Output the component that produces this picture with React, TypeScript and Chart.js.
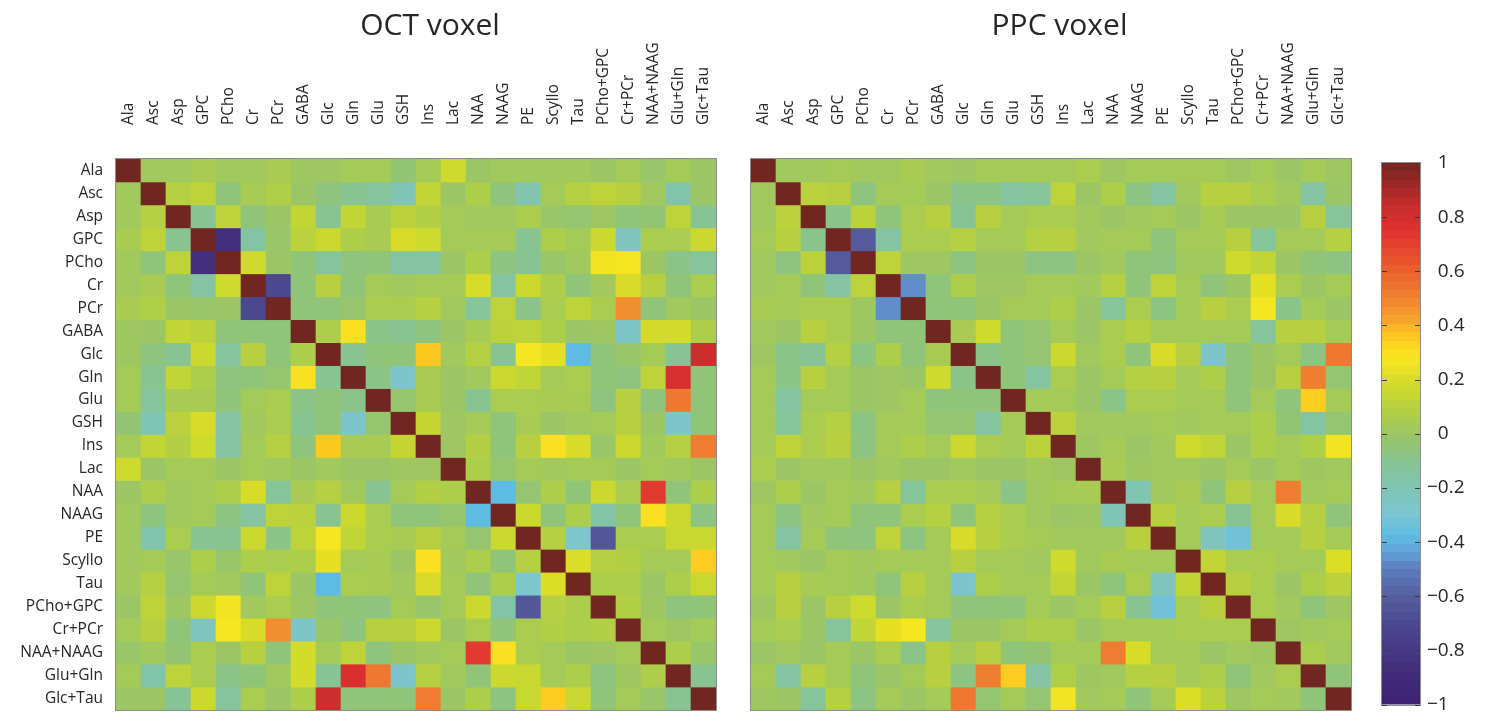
import React, { useEffect, useRef } from 'react';
import { Chart, registerables } from 'chart.js';

Chart.register(...registerables);

// ---- Data ----
const metabolites = [
  'Ala', 'Asc', 'Asp', 'GPC', 'PCho', 'Cr', 'PCr', 'GABA', 'Glc', 'Gln', 'Glu', 'GSH',
  'Ins', 'Lac', 'NAA', 'NAAG', 'PE', 'Scyllo', 'Tau', 'PCho+GPC', 'Cr+PCr', 'NAA+NAAG', 'Glu+Gln', 'Glc+Tau',
];

// Lower triangle (row r holds columns 0..r-1); diagonal = 1, upper = mirror.
const octLower: number[][] = [
  [],
  [0.02],
  [0.02, 0.09],
  [0.04, 0.12, -0.1],
  [0.02, -0.05, 0.12, -0.86],
  [0.02, 0.04, -0.05, -0.15, 0.17],
  [0.04, 0.07, 0.0, -0.01, 0.0, -0.7],
  [0.01, 0.0, 0.13, 0.11, -0.05, -0.05, -0.05],
  [0.01, -0.06, -0.1, 0.16, -0.13, 0.1, -0.05, 0.06],
  [0.03, -0.1, 0.13, 0.06, -0.06, -0.05, -0.02, 0.3, -0.1],
  [0.03, -0.13, 0.04, 0.04, -0.05, 0.03, 0.05, -0.08, -0.05, -0.08],
  [-0.04, -0.2, 0.11, 0.2, -0.15, 0.02, 0.05, -0.1, -0.05, -0.27, -0.02],
  [0.03, 0.13, 0.08, 0.17, -0.15, 0.03, 0.09, -0.06, 0.36, 0.04, 0.04, 0.14],
  [0.17, 0.0, 0.03, 0.03, 0.0, 0.03, 0.02, 0.0, 0.02, 0.0, 0.0, 0.01, 0.01],
  [0.0, 0.06, 0.02, 0.03, 0.06, 0.2, -0.12, 0.04, 0.09, 0.02, -0.1, 0.03, 0.08, 0.06],
  [0.02, -0.06, 0.02, 0.03, -0.07, -0.14, 0.12, 0.11, -0.1, 0.16, 0.05, -0.05, -0.05, -0.02, -0.38],
  [0.02, -0.18, 0.05, -0.1, -0.1, 0.16, -0.08, 0.12, 0.27, 0.13, 0.05, 0.04, 0.1, 0.03, -0.03, 0.16],
  [0.02, 0.03, -0.01, 0.06, -0.01, 0.06, 0.05, 0.06, 0.23, 0.03, 0.04, 0.0, 0.3, 0.02, 0.06, -0.05, 0.09],
  [0.02, 0.09, -0.03, 0.03, 0.02, -0.05, 0.12, 0.0, -0.38, 0.05, 0.04, 0.02, 0.2, 0.03, -0.05, 0.06, -0.28, 0.21],
  [0.0, 0.12, 0.01, 0.16, 0.26, 0.02, 0.05, 0.01, -0.05, -0.05, -0.06, 0.03, -0.01, 0.03, 0.16, -0.16, -0.63, 0.09, 0.06],
  [0.03, 0.1, -0.05, -0.23, 0.27, 0.2, 0.47, -0.26, -0.01, -0.06, 0.1, 0.1, 0.16, 0.0, 0.05, -0.05, 0.05, 0.08, 0.06, 0.08],
  [-0.01, 0.02, -0.04, 0.05, 0.0, 0.1, -0.05, 0.19, 0.03, 0.12, -0.06, 0.0, 0.02, 0.03, 0.72, 0.3, 0.05, 0.03, 0.0, 0.01, 0.03],
  [0.03, -0.17, 0.12, 0.05, -0.08, -0.05, 0.02, 0.19, -0.11, 0.77, 0.53, -0.27, 0.09, 0.02, -0.05, 0.16, 0.15, 0.03, 0.06, -0.06, 0.01, 0.06],
  [0.0, 0.0, -0.11, 0.16, -0.13, 0.05, 0.0, 0.06, 0.82, -0.05, -0.05, -0.05, 0.52, 0.0, 0.06, -0.07, 0.15, 0.35, 0.15, -0.05, 0.03, -0.01, -0.1],
];

const ppcLower: number[][] = [
  [],
  [0.02],
  [0.02, 0.11],
  [0.03, 0.1, -0.09],
  [0.02, -0.06, 0.11, -0.62],
  [0.02, 0.03, -0.05, -0.15, 0.12],
  [0.04, 0.03, 0.05, 0.05, 0.01, -0.47],
  [0.02, 0.0, 0.1, 0.05, 0.01, -0.05, -0.05],
  [0.01, -0.08, -0.11, 0.09, -0.07, 0.06, -0.05, 0.04],
  [0.03, -0.08, 0.1, 0.03, 0.0, 0.01, 0.0, 0.17, -0.08],
  [0.03, -0.14, 0.03, 0.03, 0.0, 0.01, 0.03, -0.05, -0.05, -0.05],
  [0.03, -0.12, 0.05, 0.09, -0.07, 0.03, 0.03, -0.03, -0.03, -0.14, 0.03],
  [0.03, 0.12, 0.05, 0.1, -0.07, 0.03, 0.06, 0.03, 0.16, 0.05, 0.03, 0.11],
  [0.05, 0.0, 0.02, 0.02, 0.0, 0.02, 0.0, 0.0, 0.02, 0.0, 0.0, 0.02, 0.01],
  [0.01, 0.06, 0.0, 0.03, 0.02, 0.09, -0.12, 0.05, 0.05, 0.03, -0.08, 0.02, 0.03, 0.04],
  [0.03, -0.07, 0.02, 0.03, -0.05, -0.05, 0.05, 0.09, -0.05, 0.09, 0.05, 0.02, 0.0, 0.01, -0.2],
  [0.03, -0.15, 0.03, -0.05, -0.06, 0.12, -0.07, 0.03, 0.2, 0.1, 0.05, 0.03, 0.02, 0.02, 0.02, 0.1],
  [0.03, 0.02, 0.0, 0.03, 0.02, 0.03, 0.03, 0.03, 0.1, 0.03, 0.03, 0.02, 0.17, 0.02, 0.04, 0.03, 0.03],
  [0.03, 0.1, 0.04, 0.03, 0.02, -0.05, 0.1, 0.03, -0.27, 0.06, 0.03, 0.03, 0.13, 0.0, -0.05, 0.05, -0.23, 0.13],
  [0.01, 0.1, 0.0, 0.1, 0.17, 0.0, 0.05, 0.03, -0.05, -0.05, -0.05, 0.03, 0.0, 0.03, 0.1, -0.1, -0.33, 0.05, 0.1],
  [0.03, 0.05, 0.0, -0.12, 0.13, 0.23, 0.27, -0.13, 0.0, 0.0, 0.03, 0.06, 0.06, 0.0, 0.03, 0.03, 0.03, 0.05, 0.05, 0.05],
  [0.0, 0.02, 0.0, 0.03, 0.0, 0.05, -0.08, 0.1, 0.03, 0.1, -0.05, -0.04, 0.03, 0.03, 0.52, 0.2, 0.03, 0.03, 0.0, 0.02, 0.01],
  [0.03, -0.15, 0.1, 0.03, -0.05, 0.0, 0.03, 0.1, -0.07, 0.51, 0.35, -0.15, 0.07, 0.01, 0.02, 0.09, 0.1, 0.03, 0.06, -0.05, 0.02, 0.05],
  [0.01, 0.0, -0.12, 0.09, -0.07, 0.03, 0.0, 0.03, 0.53, -0.03, 0.03, -0.03, 0.26, 0.02, 0.03, -0.05, 0.03, 0.21, 0.11, 0.01, 0.03, 0.02, -0.05],
];

const colorbarTicks = [-1, -0.8, -0.6, -0.4, -0.2, 0, 0.2, 0.4, 0.6, 0.8, 1];
const colorbarLevels = 64;

// colormap stops (value, colour)
const cmapValues = [-1.0, -0.85, -0.7, -0.6, -0.5, -0.44, -0.38, -0.3, -0.2, -0.1, -0.05, 0.0, 0.03, 0.06, 0.1, 0.15, 0.2, 0.25, 0.28, 0.32, 0.36, 0.42, 0.48, 0.53, 0.65, 0.75, 0.85, 0.93, 1.0];
const cmapColors = ['#3c2270', '#44307c', '#4b4890', '#565e9e', '#5b7cbc', '#62a0d8', '#5ebce2', '#7cc6d4', '#80c4b4', '#88c492', '#90c478', '#9cc666', '#a4ca58', '#adce4a', '#b8d040', '#c8d830', '#d8dc28', '#eee222', '#f8e820', '#fcd820', '#fcc820', '#f6a42c', '#f08a30', '#ef7830', '#e8502c', '#e03030', '#c42c2c', '#982626', '#722622'];

const FONT = "'Open Sans', 'DejaVu Sans', sans-serif";
const TEXT = '#262626';
const LABEL_SIZE = 15.5;

function hexToRgb(h: string): number[] {
  const n = parseInt(h.slice(1), 16);
  return [(n >> 16) & 255, (n >> 8) & 255, n & 255];
}

function colorFor(v: number): string {
  const x = Math.max(-1, Math.min(1, v));
  let i = 0;
  while (i < cmapValues.length - 2 && x > cmapValues[i + 1]) i++;
  const t = (x - cmapValues[i]) / (cmapValues[i + 1] - cmapValues[i]);
  const a = hexToRgb(cmapColors[i]);
  const b = hexToRgb(cmapColors[i + 1]);
  const c = a.map((av, k) => Math.round(av + (b[k] - av) * Math.max(0, Math.min(1, t))));
  return `rgb(${c[0]},${c[1]},${c[2]})`;
}

function fullMatrix(lower: number[][]): number[][] {
  return metabolites.map((_, r) =>
    metabolites.map((__, c) => (r === c ? 1 : r > c ? lower[r][c] ?? 0 : lower[c][r] ?? 0)),
  );
}

function formatTick(v: number): string {
  const n = Math.round(v * 10) / 10;
  if (n < 0) return '\u2212' + String(Math.abs(n));
  return '\u2007' + String(n);
}

// ---- Plugins ----
const framePlugin = {
  id: 'frame',
  afterDatasetsDraw(chart: any) {
    const { ctx, chartArea: a } = chart;
    ctx.save();
    ctx.strokeStyle = '#8c8c8c';
    ctx.lineWidth = 1;
    ctx.strokeRect(Math.round(a.left) - 0.5, Math.round(a.top) - 0.5, Math.round(a.right - a.left) + 1, Math.round(a.bottom - a.top) + 1);
    ctx.restore();
  },
};

const headingPlugin = {
  id: 'heading',
  afterDraw(chart: any, _args: any, opts: any) {
    if (!opts || !opts.text) return;
    const { ctx } = chart;
    ctx.save();
    ctx.font = `30px ${FONT}`;
    ctx.fillStyle = TEXT;
    ctx.textAlign = 'center';
    ctx.textBaseline = 'alphabetic';
    ctx.fillText(opts.text, opts.x, opts.y);
    ctx.restore();
  },
};

const colorbarTickPlugin = {
  id: 'cbTicks',
  afterDatasetsDraw(chart: any) {
    const { ctx, chartArea: a, scales } = chart;
    const y = scales.y;
    ctx.save();
    ctx.strokeStyle = '#3a3a3a';
    ctx.lineWidth = 1;
    colorbarTicks.forEach((t) => {
      const py = Math.round(y.getPixelForValue(t)) + 0.5;
      ctx.beginPath();
      ctx.moveTo(a.left, py);
      ctx.lineTo(a.left + 5, py);
      ctx.moveTo(a.right - 5, py);
      ctx.lineTo(a.right, py);
      ctx.stroke();
    });
    ctx.restore();
  },
};

function matrixConfig(lower: number[][], title: string, titleX: number, showRows: boolean, padLeft: number, padRight: number): any {
  const m = fullMatrix(lower);
  return {
    type: 'bar',
    data: {
      labels: metabolites,
      datasets: metabolites.map((name, r) => ({
        label: name,
        data: metabolites.map(() => [r, r + 1]),
        backgroundColor: m[r].map(colorFor),
        borderWidth: 0,
        barPercentage: 1,
        categoryPercentage: 1,
        grouped: false,
      })),
    },
    options: {
      responsive: false,
      animation: false,
      events: [],
      layout: { padding: { left: padLeft, right: padRight, top: 0, bottom: 13 } },
      plugins: {
        legend: { display: false },
        tooltip: { enabled: false },
        heading: { text: title, x: titleX, y: 35 },
      },
      scales: {
        x: {
          type: 'category',
          position: 'top',
          offset: true,
          grid: { display: false, drawTicks: false },
          border: { display: false },
          ticks: {
            autoSkip: false,
            minRotation: 90,
            maxRotation: 90,
            padding: 34,
            labelOffset: LABEL_SIZE * 1.2,
            color: TEXT,
            font: { family: FONT, size: LABEL_SIZE, lineHeight: 1.2 },
          },
          afterFit: (s: any) => {
            s.height = 159;
            s.paddingLeft = 0;
            s.paddingRight = 0;
          },
        },
        y: {
          type: 'linear',
          min: 0,
          max: 24,
          reverse: true,
          grid: { display: false, drawTicks: false },
          border: { display: false },
          afterBuildTicks: (s: any) => {
            s.ticks = metabolites.map((_, i) => ({ value: i + 0.5 }));
          },
          ticks: {
            display: showRows,
            autoSkip: false,
            padding: 13,
            color: TEXT,
            font: { family: FONT, size: LABEL_SIZE, lineHeight: 1.2 },
            callback: (v: any) => metabolites[Math.floor(Number(v))],
          },
          afterFit: (s: any) => {
            s.width = showRows ? 116 : 0;
            s.paddingTop = 0;
            s.paddingBottom = 0;
          },
        },
      },
    },
    plugins: [framePlugin, headingPlugin],
  };
}

function colorbarConfig(): any {
  return {
    type: 'bar',
    data: {
      labels: [''],
      datasets: [
        {
          data: [[-1, 1]],
          borderWidth: 0,
          barPercentage: 1,
          categoryPercentage: 1,
          backgroundColor: (c: any) => {
            const { ctx, chartArea } = c.chart;
            if (!chartArea) return 'transparent';
            const g = ctx.createLinearGradient(0, chartArea.bottom, 0, chartArea.top);
            for (let i = 0; i < colorbarLevels; i++) {
              const col = colorFor(-1 + ((i + 0.5) * 2) / colorbarLevels);
              g.addColorStop(i / colorbarLevels, col);
              g.addColorStop((i + 1) / colorbarLevels, col);
            }
            return g;
          },
        },
      ],
    },
    options: {
      responsive: false,
      animation: false,
      events: [],
      layout: { padding: { left: 22, right: 0, top: 163, bottom: 7 } },
      plugins: { legend: { display: false }, tooltip: { enabled: false } },
      scales: {
        x: { display: false },
        y: {
          position: 'right',
          min: -1,
          max: 1,
          grid: { display: false, drawTicks: false },
          border: { display: false },
          afterBuildTicks: (s: any) => {
            s.ticks = colorbarTicks.map((value) => ({ value }));
          },
          ticks: {
            padding: 7,
            color: TEXT,
            font: { family: FONT, size: 19 },
            callback: (v: any) => formatTick(Number(v)),
          },
          afterFit: (s: any) => {
            s.width = 65;
          },
        },
      },
    },
    plugins: [framePlugin, colorbarTickPlugin],
  };
}

export default function App() {
  const leftRef = useRef<HTMLCanvasElement>(null);
  const rightRef = useRef<HTMLCanvasElement>(null);
  const barRef = useRef<HTMLCanvasElement>(null);

  useEffect(() => {
    const charts: Chart[] = [];
    if (leftRef.current) charts.push(new Chart(leftRef.current, matrixConfig(octLower, 'OCT voxel', 430, true, 0, 14)));
    if (rightRef.current) charts.push(new Chart(rightRef.current, matrixConfig(ppcLower, 'PPC voxel', 329.5, false, 21, 19)));
    if (barRef.current) charts.push(new Chart(barRef.current, colorbarConfig()));
    return () => charts.forEach((c) => c.destroy());
  }, []);

  const box = (left: number, width: number): React.CSSProperties => ({
    position: 'absolute',
    left,
    top: 0,
    width,
    height: 723,
  });

  return (
    <div style={{ position: 'absolute', left: 0, top: 0, width: 1485, height: 723, background: '#ffffff', overflow: 'hidden' }}>
      <div style={box(0, 730)}>
        <canvas ref={leftRef} width={730} height={723} style={{ width: 730, height: 723, display: 'block' }} />
      </div>
      <div style={box(730, 640)}>
        <canvas ref={rightRef} width={640} height={723} style={{ width: 640, height: 723, display: 'block' }} />
      </div>
      <div style={box(1360, 125)}>
        <canvas ref={barRef} width={125} height={723} style={{ width: 125, height: 723, display: 'block' }} />
      </div>
    </div>
  );
}
